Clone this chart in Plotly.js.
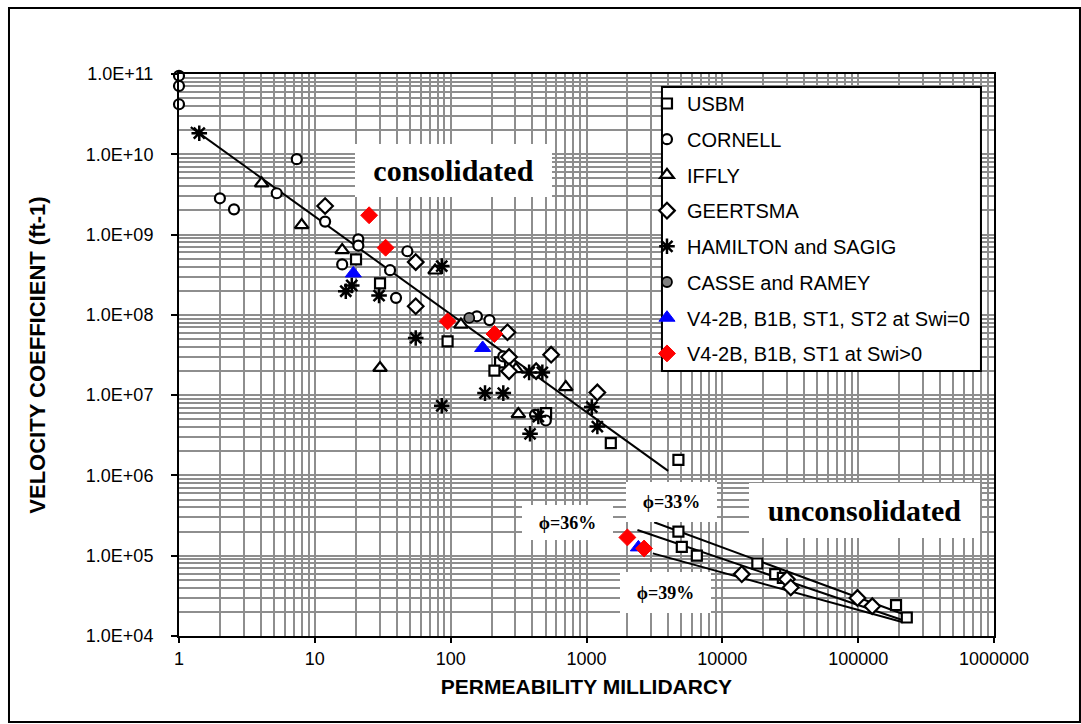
<!DOCTYPE html>
<html>
<head>
<meta charset="utf-8">
<script src="https://cdn.plot.ly/plotly-3.0.1.min.js"></script>
<style>html,body{margin:0;padding:0;background:#fff;}#chart{width:1081px;height:724px;}</style>
</head>
<body>
<div id="chart"></div>
<script>
// ---- data ----
const usbmX = [20.1, 30.2, 94.9, 231, 210, 504, 1510, 4750, 4750, 5030, 6490, 18100, 24500, 27900, 190000, 228000];
const usbmY = [4.9e8, 2.46e8, 4.68e7, 2.56e7, 2.02e7, 5.97e6, 2.52e6, 1.56e6, 1.99e5, 1.29e5, 1.0e5, 8.0e4, 5.9e4, 5.3e4, 2.42e4, 1.7e4];

const cornellX = [1, 1, 1, 7.36, 5.24, 2.0, 2.54, 11.9, 20.9, 20.9, 48, 15.9, 35.8, 39.6, 156, 193, 244, 502, 418];
const cornellY = [9.5e10, 7.1e10, 4.2e10, 8.7e9, 3.27e9, 2.83e9, 2.06e9, 1.45e9, 8.7e8, 7.3e8, 6.2e8, 4.25e8, 3.6e8, 1.63e8, 9.6e7, 8.6e7, 3.04e7, 4.83e6, 5.69e6];

const ifflyX = [4.06, 8.0, 15.9, 76.8, 30.2, 119, 303, 704, 315];
const ifflyY = [4.35e9, 1.31e9, 6.4e8, 3.57e8, 2.18e7, 7.56e7, 2.11e7, 1.26e7, 5.8e6];

const geertsmaX = [11.9, 55.3, 55.3, 262, 549, 269, 269, 426, 1202, 13900, 29900, 31900, 98800, 127000];
const geertsmaY = [2.27e9, 4.54e8, 1.28e8, 6.07e7, 3.19e7, 2.99e7, 1.98e7, 1.99e7, 1.08e7, 5.9e4, 5.1e4, 4.02e4, 2.98e4, 2.35e4];

const hamiltonX = [1.41, 16.9, 18.7, 29.7, 86, 55.3, 86, 179, 244, 378, 473, 442, 384, 1094, 1202];
const hamiltonY = [1.83e10, 1.97e8, 2.32e8, 1.74e8, 4.05e8, 5.16e7, 7.38e6, 1.06e7, 1.06e7, 1.92e7, 1.92e7, 5.42e6, 3.3e6, 7.1e6, 4.06e6];

const casseX = [137];
const casseY = [9.17e7];

const swi0X = [19.2, 172, 2410];
const swi0Y = [3.28e8, 3.87e7, 1.27e5];

const swiPosX = [25.1, 33.2, 94.9, 210, 2000, 2655];
const swiPosY = [1.74e9, 6.86e8, 8.3e7, 5.78e7, 1.69e5, 1.23e5];

// trend lines (end points)
const consLineX = [1.22, 3990];
const consLineY = [2.18e10, 1.14e6];
const phi33X = [3148, 226000];
const phi33Y = [2.61e5, 1.81e4];
const phi36X = [2371, 214000];
const phi36Y = [2.09e5, 1.57e4];
const phi39X = [3078, 214000];
const phi39Y = [1.07e5, 1.48e4];

// tick labels
const xTickVals = [1, 10, 100, 1000, 10000, 100000, 1000000];
const xTickText = ["1", "10", "100", "1000", "10000", "100000", "1000000"];
const yTickVals = [1e4, 1e5, 1e6, 1e7, 1e8, 1e9, 1e10, 1e11];
const yTickText = ["1.0E+04", "1.0E+05", "1.0E+06", "1.0E+07", "1.0E+08", "1.0E+09", "1.0E+10", "1.0E+11"];

const legendNames = ["USBM", "CORNELL", "IFFLY", "GEERTSMA", "HAMILTON and SAGIG", "CASSE and RAMEY",
  "V4-2B, B1B, ST1, ST2 at Swi=0", "V4-2B, B1B, ST1 at Swi>0"];

// minor grid positions (2..9 within each decade)
function minorVals(d0, d1) {
  const out = [];
  for (let d = d0; d < d1; d++) for (let m = 2; m <= 9; m++) out.push(m * Math.pow(10, d));
  return out;
}

const PHI = "\u03D5";
const GRID = "#8e8e8e";

function lineTrace(x, y) {
  return {x: x, y: y, mode: "lines", type: "scatter", showlegend: false, hoverinfo: "skip",
    line: {color: "#000", width: 2}, cliponaxis: false};
}
function markTrace(x, y, name, symbol, size, fill, lineColor, lw, group) {
  return {x: x, y: y, mode: "markers", type: "scatter", name: name, legendgroup: group,
    cliponaxis: false,
    marker: {symbol: symbol, size: size, color: fill, line: {color: lineColor, width: lw}}};
}

const traces = [
  lineTrace(consLineX, consLineY),
  lineTrace(phi33X, phi33Y),
  lineTrace(phi36X, phi36Y),
  lineTrace(phi39X, phi39Y),
  markTrace(usbmX, usbmY, legendNames[0], "square", 10, "#fff", "#000", 2.2, "g1"),
  markTrace(cornellX, cornellY, legendNames[1], "circle", 10, "#fff", "#000", 2.2, "g2"),
  markTrace(ifflyX, ifflyY, legendNames[2], "triangle-up", 12, "#fff", "#000", 2.2, "g3"),
  markTrace(geertsmaX, geertsmaY, legendNames[3], "diamond", 12, "#fff", "#000", 2.2, "g4"),
  markTrace(hamiltonX, hamiltonY, legendNames[4], "asterisk-open", 13, "#000", "#000", 2.5, "g5"),
  markTrace(casseX, casseY, legendNames[5], "circle", 10, "#808080", "#000", 1.8, "g6"),
  markTrace(swi0X, swi0Y, legendNames[6], "triangle-up", 14, "#0000ff", "#0000ff", 1, "g7"),
  markTrace(swiPosX, swiPosY, legendNames[7], "diamond", 13, "#ff0000", "#ff0000", 1, "g8")
];

const boxFont = {family: "Liberation Serif, Times New Roman, serif", size: 30, color: "#000", weight: "bold"};
const phiFont = {family: "Liberation Serif, Times New Roman, serif", size: 18, color: "#000", weight: "bold"};

function boxAnno(text, lx, ly, w, h, font) {
  return {x: lx, y: ly, xref: "x", yref: "y", text: "<b>" + text + "</b>", showarrow: false,
    bgcolor: "#fff", width: w, height: h, borderpad: 0, borderwidth: 0, font: font,
    xanchor: "center", yanchor: "middle", align: "center"};
}

const layout = {
  width: 1081, height: 724,
  margin: {l: 179, r: 87, t: 74, b: 88, pad: 0},
  paper_bgcolor: "#fff", plot_bgcolor: "#fff",
  font: {family: "Liberation Sans, Arial, sans-serif", color: "#000", size: 18},
  showlegend: true,
  legend: {x: 0.5742, y: 0.9822, xanchor: "left", yanchor: "top", bgcolor: "rgba(0,0,0,0)",
    borderwidth: 0, font: {size: 20, family: "Liberation Sans, Arial, sans-serif"},
    tracegroupgap: 6.7, itemclick: false},
  xaxis: {
    type: "log", range: [0, 6], tickmode: "array", tickvals: xTickVals, ticktext: xTickText,
    showgrid: true, gridcolor: GRID, gridwidth: 2,
    minor: {tickmode: "array", tickvals: minorVals(0, 6), showgrid: true, gridcolor: GRID, gridwidth: 2, ticks: ""},
    showline: true, linecolor: "#000", linewidth: 2, mirror: true,
    ticks: "outside", ticklen: 5, tickwidth: 2, tickcolor: "#000",
    tickfont: {size: 18}, zeroline: false,
    title: {text: "<b>PERMEABILITY MILLIDARCY</b>", font: {size: 21}, standoff: 12}
  },
  yaxis: {
    type: "log", range: [4, 11], tickmode: "array", tickvals: yTickVals, ticktext: yTickText,
    showgrid: true, gridcolor: GRID, gridwidth: 2,
    minor: {tickmode: "array", tickvals: minorVals(4, 11), showgrid: true, gridcolor: GRID, gridwidth: 2, ticks: ""},
    showline: true, linecolor: "#000", linewidth: 2, mirror: true,
    ticks: "outside", ticklen: 6, tickwidth: 2, tickcolor: "#000", ticklabelstandoff: 14,
    tickfont: {size: 18}, zeroline: false,
    title: {text: "<b>VELOCITY COEFFICIENT (ft-1)</b>", font: {size: 22}, standoff: 34}
  },
  shapes: [
    {type: "rect", xref: "paper", yref: "paper", x0: -0.2086, x1: 1.1055, y0: -0.1530, y1: 1.1174,
      line: {color: "#000", width: 2}, fillcolor: "rgba(0,0,0,0)", layer: "below"},
    {type: "rect", xref: "paper", yref: "paper", x0: 0.5926, x1: 0.9840, y0: 0.4715, y1: 0.9769,
      line: {color: "#000", width: 2}, fillcolor: "#fff", layer: "above"}
  ],
  annotations: [
    boxAnno("consolidated", 2.021, 9.795, 197, 53, boxFont),
    boxAnno("unconsolidated", 5.048, 5.563, 231, 55, boxFont),
    boxAnno(PHI + "=33%", 3.627, 5.669, 91, 40, phiFont),
    boxAnno(PHI + "=36%", 2.861, 5.413, 91, 35, phiFont),
    boxAnno(PHI + "=39%", 3.582, 4.539, 91, 41, phiFont)
  ]
};

Plotly.newPlot("chart", traces, layout, {displayModeBar: false, staticPlot: true});
</script>
</body>
</html>
